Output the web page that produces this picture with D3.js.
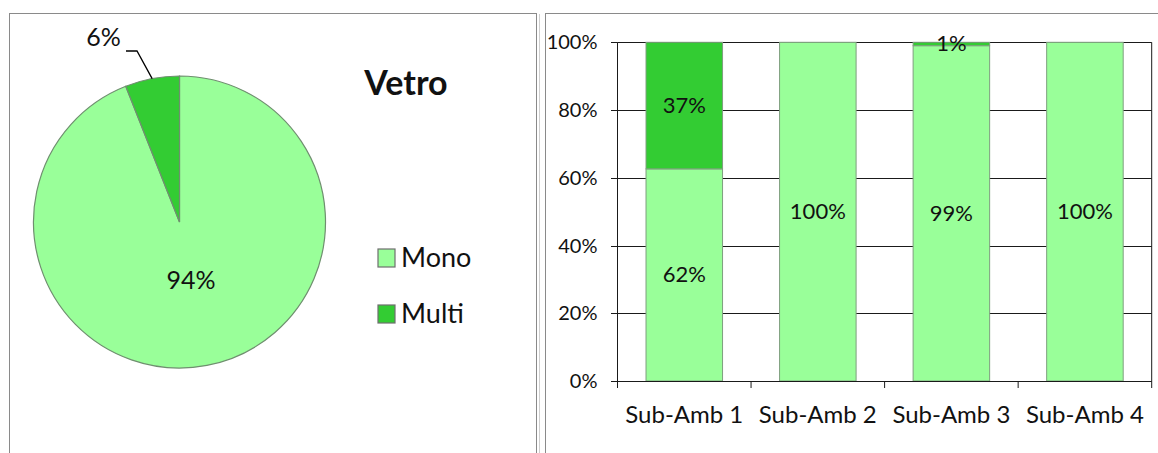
<!DOCTYPE html>
<html>
<head>
<meta charset="utf-8">
<script src="https://cdn.jsdelivr.net/npm/d3@7/dist/d3.min.js"></script>
<style>
  html, body { margin: 0; padding: 0; background: #fff; }
  svg { display: block; }
  text { font-family: Lato, "Open Sans", sans-serif; fill: #111; }
</style>
</head>
<body>
<svg id="chart" width="1158" height="453"></svg>
<script>
// ---------- DATA ----------
const pieCategories = ["Mono", "Multi"];
const pieValues = [94, 6];
const pieTitle = "Vetro";

const barCategories = ["Sub-Amb 1", "Sub-Amb 2", "Sub-Amb 3", "Sub-Amb 4"];
const monoValues = [62, 100, 99, 100];
const multiValues = [37, 0, 1, 0];
const yTicks = [0, 20, 40, 60, 80, 100];

const colors = { Mono: "#99ff99", Multi: "#33cc33" };

// ---------- SETUP ----------
const svg = d3.select("#chart");

// panel frames
svg.append("rect").attr("x", 9.5).attr("y", 13.5).attr("width", 527).attr("height", 520)
  .attr("fill", "none").attr("stroke", "#8a8a8a");
svg.append("line").attr("x1", 539.5).attr("x2", 539.5).attr("y1", 14).attr("y2", 453)
  .attr("stroke", "#cfcfcf");
svg.append("rect").attr("x", 545.5).attr("y", 13.5).attr("width", 700).attr("height", 520)
  .attr("fill", "none").attr("stroke", "#8a8a8a");

// ---------- PIE ----------
const cx = 179.5, cy = 222, r = 146;
const pie = d3.pie().sort(null).value(d => d.v);
const pieData = pie(pieCategories.map((c, i) => ({ c, v: pieValues[i] })));
const arc = d3.arc().innerRadius(0).outerRadius(r);
const gPie = svg.append("g").attr("transform", `translate(${cx},${cy})`);
gPie.selectAll("path").data(pieData).join("path")
  .attr("d", arc)
  .attr("fill", d => colors[d.data.c])
  .attr("stroke", "#6f8f6f")
  .attr("stroke-width", 1.2);

// labels: Mono inside, Multi outside with leader
const total = d3.sum(pieValues);
pieData.forEach(d => {
  const pct = Math.round(d.data.v / total * 100) + "%";
  if (d.data.c === "Mono") {
    gPie.append("text").attr("x", 11.5).attr("y", 66.5)
      .attr("text-anchor", "middle").attr("font-size", 25).text(pct);
  } else {
    const mid = (d.startAngle + d.endAngle) / 2;
    const px = Math.sin(mid) * r, py = -Math.cos(mid) * r;
    const lx = -42.5, ly = -171;
    gPie.append("polyline")
      .attr("points", `${px},${py} ${lx},${ly} ${lx - 11},${ly}`)
      .attr("fill", "none").attr("stroke", "#000").attr("stroke-width", 1.3);
    gPie.append("text").attr("x", lx - 33.5).attr("y", ly - 5)
      .attr("text-anchor", "middle").attr("font-size", 25).text(pct);
  }
});

// title
svg.append("text").attr("x", 406).attr("y", 95).attr("text-anchor", "middle")
  .attr("font-size", 34).attr("font-weight", "bold").text(pieTitle);

// legend
const legY = [249, 305];
pieCategories.forEach((c, i) => {
  svg.append("rect").attr("x", 378).attr("y", legY[i]).attr("width", 17).attr("height", 18)
    .attr("fill", colors[c]).attr("stroke", "#6e6e6e").attr("stroke-width", 1.2);
  svg.append("text").attr("x", 401).attr("y", legY[i] + 18).attr("font-size", 27).text(c);
});

// ---------- STACKED 100% BARS ----------
const x0 = 617.5, x1 = 1151.7, yTop = 42.3, yBot = 381;
const x = d3.scaleBand().domain(barCategories).range([x0, x1]).paddingInner(0.427).paddingOuter(0.2135);
const y = d3.scaleLinear().domain([0, 100]).range([yBot, yTop]);

const gBar = svg.append("g");

// gridlines
gBar.selectAll("line.grid").data(yTicks.filter(t => t > 0)).join("line")
  .attr("x1", x0).attr("x2", x1)
  .attr("y1", d => Math.round(y(d)) + 0.5).attr("y2", d => Math.round(y(d)) + 0.5)
  .attr("stroke", "#1a1a1a").attr("stroke-width", 1);

// bars
const stackRows = barCategories.map((c, i) => {
  const tot = monoValues[i] + multiValues[i];
  return { c, Mono: monoValues[i] / tot * 100, Multi: multiValues[i] / tot * 100,
           rawMono: monoValues[i], rawMulti: multiValues[i] };
});
const stack = d3.stack().keys(["Mono", "Multi"]);
const series = stack(stackRows);
series.forEach(s => {
  gBar.selectAll(null).data(s.filter(d => d[1] - d[0] > 0)).join("rect")
    .attr("x", d => x(d.data.c))
    .attr("width", x.bandwidth())
    .attr("y", d => y(d[1]))
    .attr("height", d => y(d[0]) - y(d[1]))
    .attr("fill", colors[s.key])
    .attr("stroke", "#7f9f7f").attr("stroke-width", 1);
});
// value labels
series.forEach(s => {
  gBar.selectAll(null).data(s.filter(d => d[1] - d[0] > 0)).join("text")
    .attr("x", d => x(d.data.c) + x.bandwidth() / 2)
    .attr("y", d => y((d[0] + d[1]) / 2) + 7.5)
    .attr("text-anchor", "middle").attr("font-size", 22)
    .attr("fill", "#1a2a1a")
    .text(d => (s.key === "Mono" ? d.data.rawMono : d.data.rawMulti) + "%");
});

// y axis
gBar.append("line").attr("x1", x0).attr("x2", x0).attr("y1", yTop).attr("y2", yBot + 7)
  .attr("stroke", "#1a1a1a");
gBar.append("line").attr("x1", x1).attr("x2", x1).attr("y1", yTop).attr("y2", yBot + 7)
  .attr("stroke", "#1a1a1a");
gBar.selectAll("line.ytick").data(yTicks).join("line")
  .attr("x1", x0 - 6.5).attr("x2", x0)
  .attr("y1", d => Math.round(y(d)) + 0.5).attr("y2", d => Math.round(y(d)) + 0.5)
  .attr("stroke", "#1a1a1a");
gBar.selectAll("text.ylab").data(yTicks).join("text")
  .attr("x", x0 - 20).attr("y", d => y(d) + 7)
  .attr("text-anchor", "end").attr("font-size", 20).attr("fill", "#222")
  .text(d => d + "%");

// x axis
gBar.append("line").attr("x1", x0).attr("x2", x1)
  .attr("y1", Math.round(yBot) + 0.5).attr("y2", Math.round(yBot) + 0.5).attr("stroke", "#1a1a1a");
const boundaries = barCategories.map(c => x(c) - x.step() * x.paddingInner() / 2).slice(1);
gBar.selectAll("line.xtick").data(boundaries).join("line")
  .attr("x1", d => d).attr("x2", d => d).attr("y1", yBot).attr("y2", yBot + 7)
  .attr("stroke", "#1a1a1a");
gBar.selectAll("text.xlab").data(barCategories).join("text")
  .attr("x", d => x(d) + x.bandwidth() / 2).attr("y", 423)
  .attr("text-anchor", "middle").attr("font-size", 24).attr("fill", "#222")
  .text(d => d);
</script>
</body>
</html>
